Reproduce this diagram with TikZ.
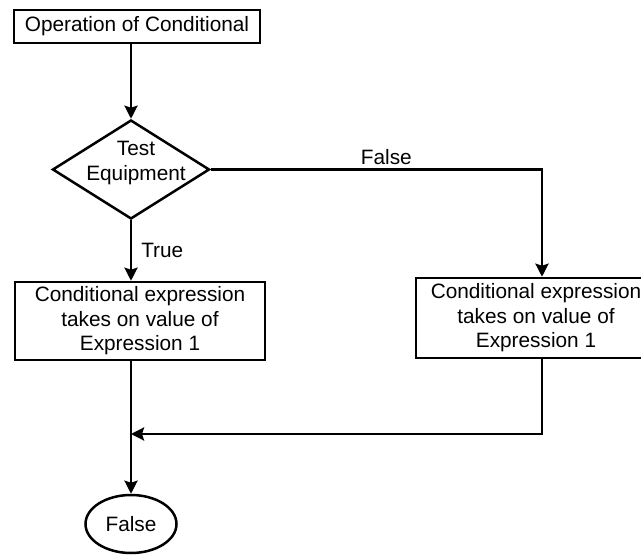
\documentclass[tikz,border=0pt]{standalone}
\usepackage{fontspec}
\setmainfont{Liberation Sans}
\usetikzlibrary{shapes.geometric,arrows.meta}
\begin{document}
\begin{tikzpicture}[x=1pt,y=-1pt,line width=2.5pt,
  txt/.style={font=\fontsize{20.8}{24.5}\selectfont, align=center, inner sep=0pt},
  procbox/.style={draw, rectangle, inner sep=0pt, txt},
  arr/.style={-{Stealth[length=13pt,width=13pt,inset=2pt]}}]
\clip (0,0) rectangle (641,556);
\node[procbox, minimum width=246pt, minimum height=33pt] (top) at (137,26.5) {Operation of Conditional};
\node[draw, diamond, minimum width=157pt, minimum height=99pt, inner sep=0pt] (d) at (131,169.5) {};
\node[txt] (dtext) at (136,163) {Test\\Equipment};
\node[procbox, minimum width=250pt, minimum height=78pt] (lbox) at (140,321) {Conditional expression\\takes on value of\\Expression 1};
\node[procbox, minimum width=240pt, minimum height=80pt] (rbox) at (536,318) {Conditional expression\\takes on value of\\Expression 1};
\node[draw, ellipse, minimum width=91pt, minimum height=58pt, inner sep=0pt, txt] (end) at (131,524) {False};
\coordinate (rx) at (542,0);
\coordinate (m) at (131,434);
\draw[arr] (top.south -| d.north) -- (d.north);
\draw[arr] (d.south) -- (d.south |- lbox.north) node[midway, right=9pt, txt] (tlab) {True};
\draw[arr] (d.east) -| (rbox.north -| rx) node[pos=0.265, above=4pt, txt] (flab) {False};
\draw[arr] (rbox.south -| rx) |- (m);
\draw[arr] (lbox.south -| d.south) -- (end.north);
\end{tikzpicture}
\end{document}
